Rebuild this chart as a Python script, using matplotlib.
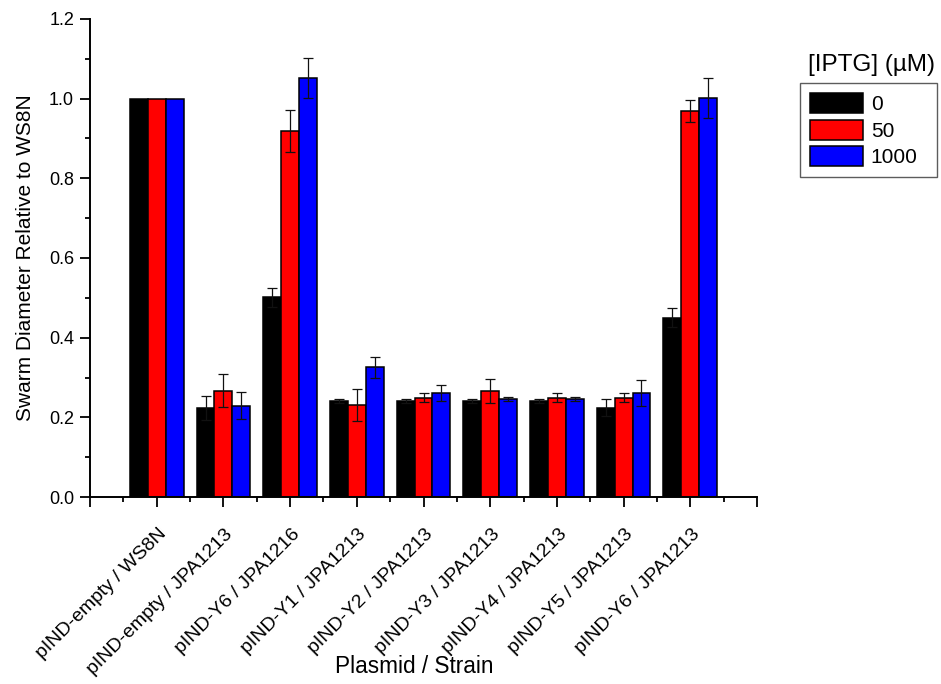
import numpy as np
import matplotlib
matplotlib.use("Agg")
import matplotlib.pyplot as plt
from matplotlib.ticker import MultipleLocator, FixedLocator
from matplotlib.transforms import ScaledTranslation

plt.rcParams['font.family'] = ['Liberation Sans', 'DejaVu Sans']

categories = ["pIND-empty / WS8N", "pIND-empty / JPA1213", "pIND-Y6 / JPA1216",
              "pIND-Y1 / JPA1213", "pIND-Y2 / JPA1213", "pIND-Y3 / JPA1213",
              "pIND-Y4 / JPA1213", "pIND-Y5 / JPA1213", "pIND-Y6 / JPA1213"]
series_names = ["0", "50", "1000"]
vals_0 = [1.0, 0.224, 0.501, 0.241, 0.241, 0.241, 0.241, 0.224, 0.450]
vals_50 = [1.0, 0.267, 0.918, 0.232, 0.249, 0.266, 0.249, 0.249, 0.969]
vals_1000 = [1.0, 0.229, 1.051, 0.326, 0.260, 0.245, 0.245, 0.261, 1.001]
err_0 = [0.0, 0.030, 0.023, 0.006, 0.006, 0.006, 0.006, 0.021, 0.024]
err_50 = [0.0, 0.041, 0.053, 0.040, 0.011, 0.030, 0.011, 0.011, 0.027]
err_1000 = [0.0, 0.034, 0.050, 0.026, 0.020, 0.005, 0.005, 0.033, 0.050]
colors = ["#000000", "#ff0000", "#0000ff"]

fig = plt.figure(figsize=(9.41, 6.84), dpi=100)
ax = fig.add_axes([90/941, 1-497/684, 667/941, 478/684])

x = np.arange(1, len(categories)+1)
w = 0.268
for k, (vals, errs) in enumerate([(vals_0, err_0), (vals_50, err_50), (vals_1000, err_1000)]):
    pos = x + (k-1)*w
    ax.bar(pos, vals, width=w, color=colors[k], edgecolor='black', linewidth=1.1,
           label=series_names[k], zorder=2)
    errs = np.array(errs)
    m = errs > 0
    ax.errorbar(pos[m], np.array(vals)[m], yerr=errs[m], fmt='none', ecolor='#111111',
                elinewidth=0.9, capsize=3.6, capthick=0.9, zorder=3)

ax.set_xlim(0, 10)
ax.set_ylim(0, 1.2)
ax.spines['top'].set_visible(False)
ax.spines['right'].set_visible(False)
for s in ['left', 'bottom']:
    ax.spines[s].set_linewidth(1.4)

ax.yaxis.set_major_locator(MultipleLocator(0.2))
ax.yaxis.set_minor_locator(MultipleLocator(0.1))
ax.yaxis.set_major_formatter(matplotlib.ticker.FormatStrFormatter('%.1f'))
ax.xaxis.set_major_locator(FixedLocator(np.arange(0, 11)))
ax.xaxis.set_minor_locator(FixedLocator(np.arange(0.5, 10, 1.0)))
ax.set_xticklabels([""] + categories + [""])

ax.tick_params(axis='both', which='major', direction='out', length=7.5, width=1.3)
ax.tick_params(axis='both', which='minor', direction='out', length=3.8, width=1.3)
ax.tick_params(axis='y', which='major', pad=4, labelsize=13)
ax.tick_params(axis='x', which='major', pad=13, labelsize=14)

offset = ScaledTranslation(1/100, 0, fig.dpi_scale_trans)
for lab in ax.get_xticklabels():
    lab.set_rotation(45)
    lab.set_ha('right')
    lab.set_va('top')
    lab.set_rotation_mode('anchor')
    lab.set_transform(lab.get_transform() + offset)

ax.set_ylabel("Swarm Diameter Relative to WS8N", fontsize=15)
ax.yaxis.set_label_coords(-0.083, 0.5)
ax.set_xlabel("Plasmid / Strain", fontsize=16.3)
ax.xaxis.set_label_coords(0.486, -0.33)

leg = fig.legend(loc='upper left', bbox_to_anchor=(800/941, 1-175/684, 137/941, 92/684),
                 bbox_transform=fig.transFigure, mode='expand', fontsize=15,
                 frameon=True, fancybox=False, borderaxespad=0, borderpad=0.5,
                 handlelength=2.5, handleheight=1.1, handletextpad=0.4, labelspacing=0.25)
leg.get_frame().set_edgecolor('#333333')
leg.get_frame().set_linewidth(1.0)
fig.text(872/941, 1-65/684, "[IPTG] (\u00b5M)", ha='center', va='center', fontsize=17.5)

fig.savefig("out.png", dpi=100)
